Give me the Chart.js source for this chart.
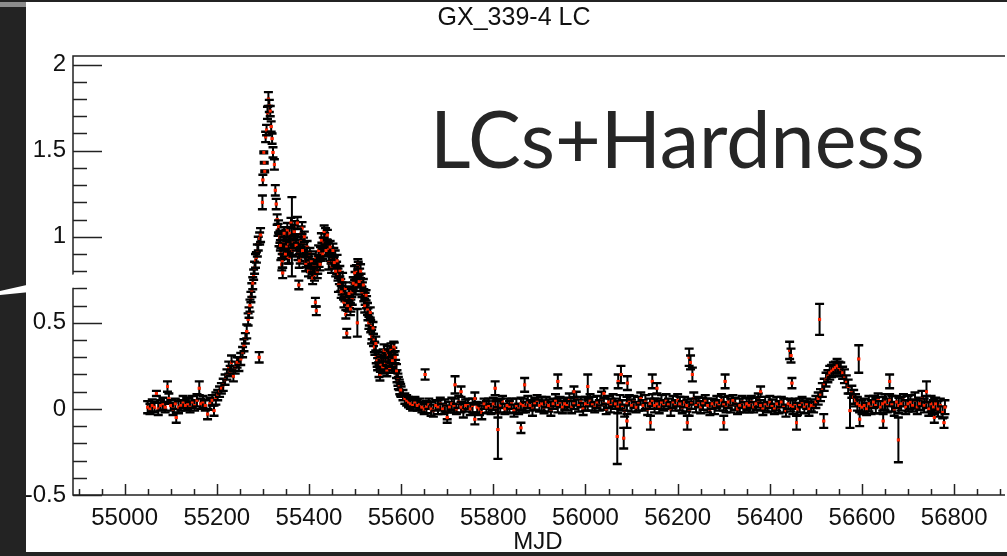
<!DOCTYPE html>
<html>
<head>
<meta charset="utf-8">
<script src="https://cdn.jsdelivr.net/npm/chart.js@4/dist/chart.umd.min.js"></script>
<style>
html,body{margin:0;padding:0;width:1007px;height:556px;overflow:hidden;background:#222;}
#wrap{position:absolute;left:0;top:0;width:1007px;height:556px;}
canvas{display:block;}
.strip{position:absolute;background:#232323;}
#big{position:absolute;left:430px;top:98px;font-family:Lato,"Open Sans",sans-serif;font-size:79px;line-height:1;color:#262626;white-space:nowrap;}
#slash{position:absolute;left:0;top:0;}
</style>
</head>
<body>
<div id="wrap"><canvas id="c" width="1007" height="556"></canvas></div>
<div class="strip" style="left:0;top:0;width:26px;height:556px"></div>
<div class="strip" style="left:0;top:0;width:1007px;height:2px"></div>
<div class="strip" style="left:0;top:552px;width:1007px;height:4px"></div>
<div style="position:absolute;left:0;top:2px;width:26px;height:5px;background:#8c8c8c"></div>
<svg id="slash" width="90" height="556"><polygon points="0,291 80,273 80,287 0,295" fill="#ffffff"/></svg>
<div id="big">LCs+Hardness</div>
<script>
// ---------------- data ----------------
const chartTitle = 'GX_339-4 LC';
const xAxisTitle = 'MJD';
const xTickValues = [55000, 55200, 55400, 55600, 55800, 56000, 56200, 56400, 56600, 56800];
const yTickValues = [-0.5, 0, 0.5, 1, 1.5, 2];

// quiescence before the outburst
const quietMjd = [55050,55055,55060,55065,55069,55073,55078,55083,55088,55093,
  55096,55100,55105,55110,55112,55117,55122,55127,55132,55137,
  55142,55147,55152,55157,55162,55165,55170,55175,55180,55185,
  55190,55194,55198];
const quietRate = [0.01,0.00,0.02,0.01,0.09,0.00,0.02,0.03,0.01,0.13,
  0.06,0.02,0.00,0.03,-0.05,0.01,0.02,0.04,0.02,0.03,
  0.01,0.04,0.02,0.05,0.12,0.03,0.04,0.02,-0.03,0.03,
  0.05,-0.01,0.06];
const quietErr = [0.035,0.03,0.035,0.03,0.015,0.035,0.03,0.035,0.03,0.03,
  0.03,0.03,0.035,0.03,0.03,0.035,0.03,0.035,0.03,0.035,
  0.03,0.035,0.03,0.035,0.04,0.03,0.035,0.03,0.03,0.035,
  0.03,0.03,0.035];

// rise
const riseMjd = [55202,55206,55210,55214,55218,55222,55226,55229,55232,55236,
  55240,55244,55248,55252,55256,55259,55262,55265,55268,55270,
  55272,55274,55276,55278,55280,55282,55284,55286,55288,55290,
  55292,55293,55295];
const riseRate = [0.08,0.10,0.12,0.14,0.17,0.20,0.24,0.22,0.27,0.19,
  0.24,0.27,0.26,0.29,0.33,0.37,0.41,0.45,0.52,0.56,
  0.60,0.65,0.69,0.73,0.78,0.82,0.86,0.88,0.92,0.96,
  0.30,0.99,1.01];
const riseErr = [0.03,0.03,0.03,0.035,0.03,0.03,0.035,0.03,0.04,0.03,
  0.035,0.03,0.04,0.035,0.03,0.035,0.03,0.04,0.035,0.03,
  0.035,0.03,0.04,0.035,0.03,0.035,0.04,0.03,0.035,0.04,
  0.03,0.035,0.04];

// peak and decay
const decayMjd = [55299,55300,55302,55303,55304,55306,55308,55310,55312,55314,
  55316,55318,55320,55322,55325,55327,55329,55331,55333,55335,
  55337,55339,55341,55343,55345,55347,55350,55352,55354,55356,
  55358,55360,55363,55366,55369,55371,55374,55376,55378,55381,
  55383,55385,55388,55391,55394,55397,55400,55403,55406,55409,
  55412,55414,55416,55419,55422,55425,55428,55431,55434,55436,
  55439,55442,55445,55448,55451,55454,55457,55460,55463,55466,
  55469,55472,55475,55478,55480,55482,55485,55488,55491,55494,
  55497,55500,55503,55505,55507,55510,55513,55516,55519,55522,
  55525,55528,55531,55534,55537,55540,55543,55546,55549,55552,
  55555,55558,55561,55564,55567,55570,55573,55576,55579,55582,
  55585,55588,55591,55594,55597,55600,55604,55608,55612,55616,
  55620,55625,55630,55635,55640,55645,55650,55652];
const decayRate = [1.20,1.33,1.49,1.43,1.38,1.58,1.62,1.72,1.80,1.76,
  1.73,1.64,1.57,1.49,1.42,1.27,1.19,1.10,1.04,0.98,
  1.00,0.90,0.84,0.79,0.96,0.92,1.00,0.94,0.88,0.96,
  1.02,0.93,1.00,0.97,1.05,0.98,0.93,0.90,0.72,0.88,
  1.02,1.05,0.96,0.90,0.86,0.88,0.85,0.83,0.80,0.82,
  0.78,0.62,0.57,0.82,0.86,0.90,0.93,0.96,0.98,1.00,
  0.95,0.93,0.90,0.88,0.86,0.90,0.88,0.82,0.78,0.76,
  0.72,0.70,0.67,0.66,0.55,0.44,0.64,0.62,0.60,0.64,
  0.70,0.76,0.80,0.50,0.82,0.78,0.75,0.70,0.66,0.64,
  0.62,0.55,0.52,0.48,0.44,0.40,0.35,0.30,0.26,0.22,
  0.25,0.28,0.31,0.24,0.29,0.33,0.26,0.30,0.27,0.32,
  0.35,0.25,0.19,0.15,0.12,0.10,0.08,0.06,0.05,0.04,
  0.03,0.02,0.04,0.02,0.03,0.01,0.00,0.20];
const decayErr = [0.04,0.03,0.005,0.005,0.005,0.03,0.03,0.035,0.04,0.035,
  0.03,0.03,0.03,0.03,0.03,0.03,0.03,0.03,0.035,0.035,
  0.035,0.035,0.035,0.03,0.04,0.035,0.04,0.035,0.035,0.04,
  0.035,0.04,0.23,0.035,0.04,0.035,0.035,0.035,0.025,0.035,
  0.04,0.035,0.035,0.04,0.035,0.035,0.035,0.035,0.04,0.035,
  0.035,0.025,0.025,0.035,0.035,0.04,0.035,0.035,0.04,0.05,
  0.035,0.035,0.04,0.035,0.035,0.035,0.04,0.035,0.035,0.035,
  0.035,0.035,0.035,0.035,0.025,0.025,0.035,0.035,0.035,0.035,
  0.035,0.035,0.035,0.08,0.035,0.035,0.035,0.035,0.035,0.035,
  0.035,0.035,0.035,0.035,0.035,0.035,0.035,0.035,0.035,0.035,
  0.035,0.035,0.035,0.035,0.035,0.035,0.035,0.035,0.035,0.035,
  0.035,0.035,0.035,0.035,0.035,0.03,0.03,0.03,0.03,0.03,
  0.03,0.03,0.03,0.03,0.03,0.03,0.03,0.03];

// additional days inside the decay (interleaved observations)
const decayExtraMjd = [55334,55338,55342,55346,55349,55353,55357,55361,55365,55368,
  55372,55375,55379,55382,55386,55390,55393,55396,55399,55402,
  55405,55408,55411,55415,55418,55421,55424,55427,55430,55433,
  55437,55440,55443,55446,55449,55452,55455,55458,55461,55464,
  55467,55470,55473,55476,55479,55484,55487,55490,55493,55496,
  55499,55502,55506,55509,55512,55515,55518,55521,55524,55527,
  55530,55533,55536,55539,55542,55545,55548,55551,55554,55557,
  55560,55563,55566,55569,55572,55575,55578,55581,55584,55587,
  55590,55593,55596,55599];
const decayExtraRate = [1.06,0.95,0.86,1.02,0.90,1.04,0.88,1.08,0.92,1.03,
  0.95,1.08,0.86,0.97,0.92,1.00,0.84,0.94,0.80,0.90,
  0.86,0.76,0.84,0.88,0.80,0.92,0.84,0.98,0.90,1.03,
  0.92,1.01,0.85,0.94,0.82,0.92,0.85,0.80,0.86,0.72,
  0.80,0.68,0.75,0.62,0.70,0.60,0.67,0.58,0.68,0.73,
  0.79,0.72,0.84,0.74,0.80,0.68,0.72,0.60,0.66,0.58,
  0.50,0.56,0.42,0.47,0.36,0.38,0.28,0.30,0.20,0.26,
  0.24,0.34,0.27,0.22,0.31,0.24,0.34,0.28,0.36,0.30,
  0.22,0.17,0.14,0.11];
const decayExtraErr = [0.035,0.03,0.04,0.035,0.03,0.04,0.035,0.03,0.035,0.04,
  0.03,0.035,0.04,0.03,0.035,0.03,0.04,0.035,0.03,0.035,
  0.04,0.035,0.03,0.035,0.04,0.03,0.035,0.04,0.03,0.035,
  0.035,0.03,0.04,0.035,0.03,0.04,0.035,0.03,0.035,0.04,
  0.03,0.035,0.04,0.03,0.035,0.03,0.04,0.035,0.03,0.035,
  0.04,0.035,0.03,0.035,0.04,0.03,0.035,0.04,0.03,0.035,
  0.035,0.03,0.04,0.035,0.03,0.04,0.035,0.03,0.035,0.04,
  0.03,0.035,0.04,0.03,0.035,0.03,0.04,0.035,0.03,0.035,
  0.04,0.035,0.03,0.035];

// long low state
const flatMjd = [55655,55660,55665,55670,55675,55680,55685,55690,55695,55700,
  55705,55710,55715,55720,55725,55730,55735,55740,55745,55750,
  55755,55760,55765,55770,55775,55780,55785,55790,55795,55800,
  55805,55810,55815,55820,55825,55830,55835,55840,55845,55850,
  55855,55860,55865,55870,55875,55880,55885,55890,55895,55900,
  55905,55910,55915,55920,55925,55930,55935,55940,55945,55950,
  55955,55960,55965,55970,55975,55980,55985,55990,55995,56000,
  56005,56010,56015,56020,56025,56030,56035,56040,56045,56050,
  56055,56060,56065,56070,56075,56080,56085,56090,56095,56100,
  56105,56110,56115,56120,56125,56130,56135,56140,56145,56150,
  56155,56160,56165,56170,56175,56180,56185,56190,56195,56200,
  56205,56210,56215,56220,56225,56230,56235,56240,56245,56250,
  56255,56260,56265,56270,56275,56280,56285,56290,56295,56300,
  56305,56310,56315,56320,56325,56330,56335,56340,56345,56350,
  56355,56360,56365,56370,56375,56380,56385,56390,56395,56400,
  56405,56410,56415,56420,56425,56430,56435,56440,56445,56450,
  56455,56460,56465,56470,56475,56480,56485,56490,56495,56500];
const flatRate = [0.01,0.03,0.00,-0.01,0.02,0.01,0.03,0.00,0.02,-0.02,
  0.01,0.03,0.02,0.00,0.04,0.01,-0.01,0.02,0.03,0.00,
  0.02,0.06,0.01,0.00,-0.02,0.03,0.01,0.02,0.00,0.03,
  0.01,-0.02,0.02,0.04,0.00,0.02,0.01,0.03,-0.01,0.02,
  0.00,0.03,0.02,0.01,0.04,0.02,0.00,0.03,0.05,0.02,
  0.03,0.01,0.04,0.02,0.00,0.03,0.05,0.02,0.04,0.01,
  0.03,0.02,0.05,0.01,0.03,0.06,0.02,0.04,0.00,0.03,
  0.02,0.05,0.03,0.01,0.04,0.02,0.06,0.03,0.00,0.04,
  0.02,0.05,0.03,0.01,0.04,0.02,-0.01,0.03,0.05,0.02,
  0.04,0.01,0.03,0.06,0.02,0.04,0.00,0.03,0.05,0.02,
  0.03,0.01,0.04,0.02,0.05,0.03,0.00,0.04,0.02,0.05,
  0.03,0.01,0.04,0.02,0.00,0.03,0.06,0.02,0.04,0.01,
  0.03,0.05,0.02,0.00,0.03,0.01,0.04,0.02,0.05,0.03,
  0.01,0.04,0.02,0.05,0.03,0.00,0.02,0.04,0.01,0.03,
  0.02,0.04,0.01,0.03,0.05,0.02,0.00,0.03,0.01,0.04,
  0.02,0.00,0.03,0.01,0.04,0.02,-0.01,0.03,0.02,0.01,
  0.03,0.00,0.02,0.04,0.01,0.03,0.00,0.02,0.01,0.04];
const flatErr = [0.035,0.03,0.04,0.035,0.03,0.04,0.035,0.03,0.035,0.04,
  0.03,0.035,0.04,0.03,0.035,0.03,0.04,0.035,0.03,0.035,
  0.04,0.035,0.03,0.035,0.04,0.03,0.035,0.04,0.03,0.035,
  0.035,0.03,0.04,0.035,0.03,0.04,0.035,0.03,0.035,0.04,
  0.03,0.035,0.04,0.03,0.035,0.03,0.04,0.035,0.03,0.035,
  0.04,0.035,0.03,0.035,0.04,0.03,0.035,0.04,0.03,0.035,
  0.035,0.03,0.04,0.035,0.03,0.04,0.035,0.03,0.035,0.04,
  0.03,0.035,0.04,0.03,0.035,0.03,0.04,0.035,0.03,0.035,
  0.04,0.035,0.03,0.035,0.04,0.03,0.035,0.04,0.03,0.035,
  0.035,0.03,0.04,0.035,0.03,0.04,0.035,0.03,0.035,0.04,
  0.03,0.035,0.04,0.03,0.035,0.03,0.04,0.035,0.03,0.035,
  0.04,0.035,0.03,0.035,0.04,0.03,0.035,0.04,0.03,0.035,
  0.035,0.03,0.04,0.035,0.03,0.04,0.035,0.03,0.035,0.04,
  0.03,0.035,0.04,0.03,0.035,0.03,0.04,0.035,0.03,0.035,
  0.04,0.035,0.03,0.035,0.04,0.03,0.035,0.04,0.03,0.035,
  0.035,0.03,0.04,0.035,0.03,0.04,0.035,0.03,0.035,0.04,
  0.03,0.035,0.04,0.03,0.035,0.03,0.04,0.035,0.03,0.035];

// small 2013 re-brightening
const bumpMjd = [56505,56510,56514,56518,56522,56526,56530,56534,56538,56542,
  56546,56550,56554,56558,56562,56566,56570,56578,56582,56586,
  56590,56595,56600];
const bumpRate = [0.06,0.08,0.11,0.14,0.17,0.19,0.21,0.22,0.23,0.24,
  0.25,0.24,0.23,0.21,0.19,0.16,0.13,0.10,0.07,0.05,
  0.03,0.02,0.01];
const bumpErr = [0.035,0.035,0.04,0.035,0.04,0.035,0.04,0.035,0.04,0.035,
  0.04,0.035,0.04,0.035,0.04,0.035,0.04,0.035,0.04,0.035,
  0.04,0.035,0.04];

// end of the light curve
const lateMjd = [56605,56610,56615,56620,56625,56630,56635,56640,56645,56650,
  56655,56660,56665,56670,56675,56680,56685,56690,56695,56700,
  56705,56710,56715,56720,56725,56730,56735,56740,56745,56750,
  56755,56760,56765,56770,56775,56780];
const lateRate = [0.02,0.00,0.03,0.01,0.04,0.02,0.05,0.01,0.03,0.04,
  0.02,0.05,0.03,0.00,0.04,0.02,0.03,0.05,0.01,0.03,
  0.04,0.02,0.05,0.01,0.03,0.06,0.02,0.04,0.00,0.03,
  0.01,0.03,0.00,0.02,-0.02,0.01];
const lateErr = [0.04,0.035,0.045,0.04,0.035,0.045,0.04,0.035,0.04,0.045,
  0.04,0.035,0.045,0.04,0.035,0.045,0.04,0.035,0.04,0.045,
  0.04,0.035,0.045,0.04,0.035,0.045,0.04,0.035,0.04,0.045,
  0.04,0.035,0.045,0.04,0.035,0.04];

// isolated high / low points in the low state
const sporadicMjd = [55700,55717,55730,55760,55804,55810,55860,55868,55940,55975,
  56005,56040,56069,56071,56077,56083,56090,56091,56141,56145,
  56155,56221,56225,56228,56232,56300,56303,56380,56443,56446,
  56448,56458,56508,56517,56574,56593,56595,56646,56660,56679,
  56740,56757,56778];
const sporadicRate = [-0.05,0.14,0.10,-0.06,0.12,-0.12,-0.11,0.14,0.16,0.10,
  0.13,0.09,-0.16,0.16,0.20,-0.17,-0.07,0.15,-0.08,0.16,
  0.12,-0.08,0.30,0.27,0.20,-0.08,0.16,0.10,0.34,0.31,
  0.15,-0.08,0.52,-0.07,-0.01,0.29,-0.06,-0.07,0.16,-0.18,
  0.10,-0.05,-0.08];
const sporadicErr = [0.03,0.05,0.03,0.03,0.04,0.17,0.03,0.04,0.04,0.03,
  0.07,0.03,0.16,0.04,0.05,0.06,0.04,0.04,0.04,0.04,
  0.03,0.04,0.05,0.04,0.04,0.04,0.04,0.03,0.05,0.04,
  0.03,0.04,0.09,0.04,0.10,0.08,0.04,0.04,0.04,0.13,
  0.06,0.03,0.03];

// ---------------- build ----------------
const segments = [
  [quietMjd, quietRate, quietErr],
  [riseMjd, riseRate, riseErr],
  [decayMjd, decayRate, decayErr],
  [decayExtraMjd, decayExtraRate, decayExtraErr],
  [flatMjd, flatRate, flatErr],
  [bumpMjd, bumpRate, bumpErr],
  [lateMjd, lateRate, lateErr],
  [sporadicMjd, sporadicRate, sporadicErr]
];
const points = [];
const errs = [];
segments.forEach(([m, r, e]) => {
  const n = Math.min(m.length, r.length, e.length);
  for (let i = 0; i < n; i++) { points.push({x: m[i], y: r[i]}); errs.push(e[i]); }
});

const FAMILY = '"Liberation Sans", Arial, sans-serif';
const TICK_FONT = {family: FAMILY, size: 24};
const INK = '#111';

const bgPlugin = {
  id: 'bg',
  beforeDraw(chart) {
    const c = chart.ctx;
    c.save(); c.fillStyle = '#fff'; c.fillRect(0, 0, chart.width, chart.height); c.restore();
  }
};

const errorBarPlugin = {
  id: 'errorBars',
  afterDatasetsDraw(chart) {
    const c = chart.ctx, xs = chart.scales.x, ys = chart.scales.y, a = chart.chartArea;
    const meta = chart.getDatasetMeta(0);
    c.save();
    c.beginPath(); c.rect(a.left, a.top, a.right - a.left, a.bottom - a.top); c.clip();
    points.forEach((p, i) => {
      const px = xs.getPixelForValue(p.x);
      const yt = ys.getPixelForValue(p.y + errs[i]);
      const yb = ys.getPixelForValue(p.y - errs[i]);
      c.save();
      c.strokeStyle = '#000';
      c.lineWidth = 2;
      c.beginPath(); c.moveTo(px, yt); c.lineTo(px, yb); c.stroke();
      c.lineWidth = 2.4;
      c.beginPath();
      c.moveTo(px - 4.5, yt); c.lineTo(px + 4.5, yt);
      c.moveTo(px - 4.5, yb); c.lineTo(px + 4.5, yb);
      c.stroke();
      c.restore();
      if (meta.data[i]) { c.save(); meta.data[i].draw(c, a); c.restore(); }
    });
    c.restore();
  }
};

const framePlugin = {
  id: 'frame',
  afterDraw(chart) {
    const c = chart.ctx, xs = chart.scales.x, ys = chart.scales.y, a = chart.chartArea;
    c.save();
    c.strokeStyle = '#222';
    c.lineWidth = 1.5;
    c.beginPath();
    c.moveTo(a.right + 2, a.top); c.lineTo(a.left, a.top); c.lineTo(a.left, a.bottom); c.lineTo(a.right + 2, a.bottom);
    c.stroke();
    // x ticks pointing inside
    const xStep = xTickValues[1] - xTickValues[0];
    for (let v = xTickValues[0] - xStep; v <= xTickValues[xTickValues.length - 1] + xStep; v += xStep / 4) {
      if (v < xs.min || v > xs.max) continue;
      const major = xTickValues.includes(v);
      const px = Math.round(xs.getPixelForValue(v)) + 0.5;
      c.beginPath(); c.moveTo(px, a.bottom); c.lineTo(px, a.bottom - (major ? 11 : 6)); c.stroke();
    }
    // y ticks pointing inside
    for (let k = 0; k <= 25; k++) {
      const v = Math.round((-0.5 + k * 0.1) * 10) / 10;
      const major = yTickValues.includes(v);
      const py = Math.round(ys.getPixelForValue(v)) + 0.5;
      c.beginPath(); c.moveTo(a.left, py); c.lineTo(a.left + (major ? 29 : 14), py); c.stroke();
    }
    c.restore();
  }
};

new Chart(document.getElementById('c'), {
  type: 'scatter',
  data: {
    datasets: [{
      data: points,
      pointStyle: 'rect',
      pointRadius: 2.1,
      pointBorderWidth: 0,
      pointBorderColor: '#ff2400',
      pointBackgroundColor: '#ff2400',
      showLine: false
    }]
  },
  options: {
    responsive: false,
    animation: false,
    events: [],
    layout: {padding: {left: 21, right: 0, top: 0, bottom: 0}},
    plugins: {
      legend: {display: false},
      tooltip: {enabled: false},
      title: {
        display: true, text: chartTitle, fullSize: true,
        color: INK, font: {family: FAMILY, size: 25, weight: 'normal', lineHeight: 1.2},
        padding: {top: 3, bottom: 23}
      }
    },
    scales: {
      x: {
        type: 'linear', min: 54888, max: 56906,
        grid: {display: false, drawTicks: false}, border: {display: false},
        afterBuildTicks: s => { s.ticks = xTickValues.map(v => ({value: v})); },
        afterFit: s => { s.height = 61; },
        ticks: {padding: 9, color: INK, font: TICK_FONT, autoSkip: false, maxRotation: 0, callback: v => String(v)},
        title: {display: true, text: xAxisTitle, color: INK, font: {family: FAMILY, size: 24, lineHeight: 1.2}, padding: {top: 0, bottom: -1}}
      },
      y: {
        type: 'linear', min: -0.5, max: 2.05,
        grid: {display: false, drawTicks: false}, border: {display: false},
        afterBuildTicks: s => { s.ticks = yTickValues.map(v => ({value: v})); },
        afterFit: s => { s.width = 52; },
        ticks: {padding: 7, color: INK, font: TICK_FONT, callback: v => String(v)}
      }
    }
  },
  plugins: [bgPlugin, errorBarPlugin, framePlugin]
});
</script>
</body>
</html>
